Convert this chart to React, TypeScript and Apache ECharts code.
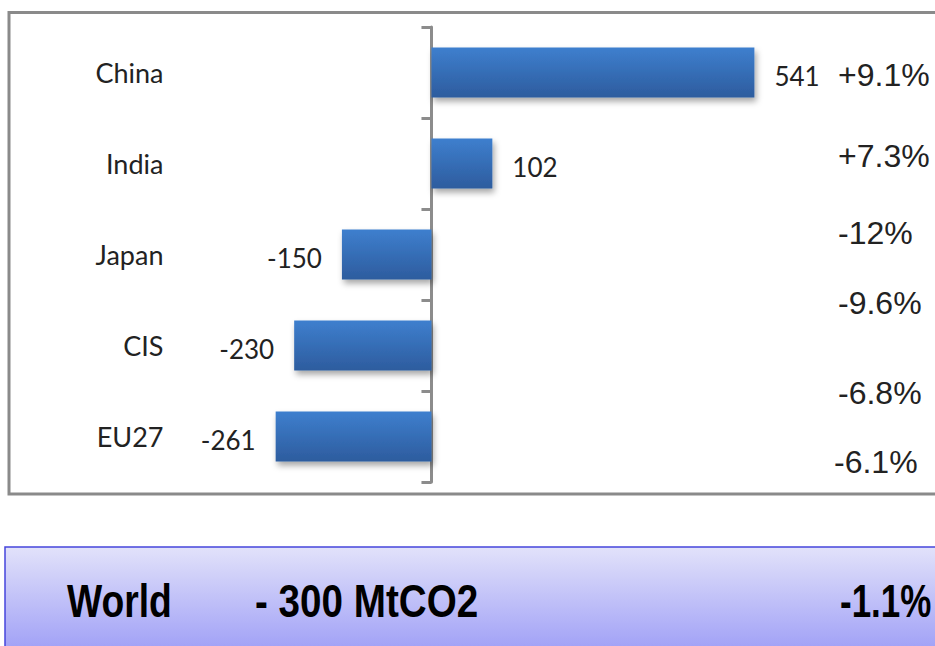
import React, { useEffect, useRef } from "react";
import * as echarts from "echarts";

const categories = ["China", "India", "Japan", "CIS", "EU27"];
const changes = [541, 102, -150, -230, -261];
const percentLabels = ["+9.1%", "+7.3%", "-12%", "-9.6%", "-6.8%", "-6.1%"];
const percentX = [838, 838, 838, 838, 838, 834];
const percentY = [75, 156, 233, 303, 393, 462];
const worldLabel = "World";
const worldChange = "- 300 MtCO2";
const worldPct = "-1.1%";

const X_MIN = -500;
const X_MAX = 800;
const GRID_LEFT = 133;
const GRID_RIGHT = 26;

export default function App() {
  const ref = useRef<HTMLDivElement>(null);
  useEffect(() => {
    if (!ref.current) return;
    const chart = echarts.init(ref.current, null, { renderer: "svg" });
    const gridWidth = 935 - GRID_LEFT - GRID_RIGHT;
    const zeroOffset = ((0 - X_MIN) / (X_MAX - X_MIN)) * gridWidth;
    const barGradient = new echarts.graphic.LinearGradient(0, 0, 0, 1, [
      { offset: 0, color: "#3E7FCE" },
      { offset: 1, color: "#2D5C9E" },
    ]);
    const worldGradient = new echarts.graphic.LinearGradient(0, 0, 0, 1, [
      { offset: 0, color: "#E2E2FA" },
      { offset: 1, color: "#9C9CF6" },
    ]);
    const option: any = {
      animation: false,
      backgroundColor: "#ffffff",
      grid: {
        left: GRID_LEFT,
        right: GRID_RIGHT,
        top: 27,
        bottom: 164,
        outerBoundsMode: "none",
      },
      xAxis: {
        type: "value",
        min: X_MIN,
        max: X_MAX,
        show: false,
        splitLine: { show: false },
      },
      yAxis: {
        type: "category",
        data: categories,
        inverse: true,
        position: "left",
        offset: -zeroOffset,
        axisLine: { show: true, onZero: false, lineStyle: { color: "#8c8c8c", width: 3 } },
        axisTick: { show: true, length: 10, lineStyle: { color: "#8c8c8c", width: 3 } },
        axisLabel: {
          align: "right",
          margin: 268,
          color: "#222",
          fontFamily: "Lato",
          fontSize: 27,
          padding: [4, 0, 0, 0],
        },
        splitLine: { show: false },
      },
      series: [
        {
          type: "bar",
          barWidth: "55%",
          data: changes.map((v) => ({
            value: v,
            label: { position: v < 0 ? "left" : "right" },
          })),
          itemStyle: {
            color: barGradient,
            shadowBlur: 6,
            shadowOffsetX: 2,
            shadowOffsetY: 4,
            shadowColor: "rgba(0,0,0,0.35)",
          },
          label: {
            show: true,
            distance: 20,
            offset: [0, 3],
            color: "#222",
            fontFamily: "Lato",
            fontSize: 26,
          },
        },
      ],
      graphic: [
        {
          type: "rect",
          shape: { x: 9, y: 12.5, width: 940, height: 481.5 },
          style: { fill: "none", stroke: "#8a8a8a", lineWidth: 3 },
          z: -1,
        },
        ...percentLabels.map((t, i) => ({
          type: "text",
          x: percentX[i],
          y: percentY[i],
          style: {
            text: t,
            fill: "#222",
            fontFamily: "Liberation Sans, Arial, sans-serif",
            fontSize: 32,
            textAlign: "left",
            textVerticalAlign: "middle",
          },
        })),
        {
          type: "rect",
          shape: { x: 5, y: 547, width: 940, height: 110 },
          style: { fill: worldGradient, stroke: "#4646DC", lineWidth: 1.5 },
        },
        {
          type: "text",
          x: 67,
          y: 601,
          scaleX: 0.81,
          style: {
            text: worldLabel,
            fill: "#000",
            fontFamily: "Liberation Sans, Arial, sans-serif",
            fontWeight: "bold",
            fontSize: 46,
            textAlign: "left",
            textVerticalAlign: "middle",
          },
        },
        {
          type: "text",
          x: 255,
          y: 601,
          scaleX: 0.84,
          style: {
            text: worldChange,
            fill: "#000",
            fontFamily: "Liberation Sans, Arial, sans-serif",
            fontWeight: "bold",
            fontSize: 46,
            textAlign: "left",
            textVerticalAlign: "middle",
          },
        },
        {
          type: "text",
          x: 840,
          y: 601,
          scaleX: 0.76,
          style: {
            text: worldPct,
            fill: "#000",
            fontFamily: "Liberation Sans, Arial, sans-serif",
            fontWeight: "bold",
            fontSize: 46,
            textAlign: "left",
            textVerticalAlign: "middle",
          },
        },
      ],
    };
    chart.setOption(option);
    return () => chart.dispose();
  }, []);
  return (
    <div
      ref={ref}
      style={{ position: "fixed", left: 0, top: 0, width: 935, height: 646 }}
    />
  );
}
